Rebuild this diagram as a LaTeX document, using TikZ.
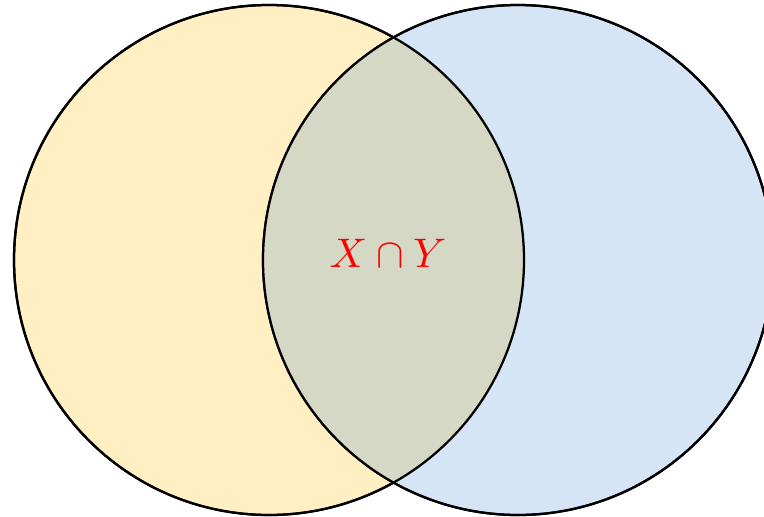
\documentclass[tikz,border=0pt]{standalone}
\definecolor{setXfill}{HTML}{FFEFC2}
\definecolor{setYfill}{HTML}{D6E5F5}
\definecolor{setXYfill}{HTML}{D5D8C5}
\begin{document}
\begin{tikzpicture}[x=0.75pt, y=-0.75pt,
  setA/.style={circle, draw=black, line width=1.7pt, inner sep=0pt, minimum size=382.5pt},
  lab/.style={text=red, scale=3.1}]
\useasboundingbox (0,0) rectangle (764,517);
\node[setA, fill=setXfill] (setX) at (269,260) {};
\node[setA, fill=setYfill] (setY) at (518,260) {};
\begin{scope}
  \clip (269,260) circle (255);
  \fill[setXYfill] (518,260) circle (255);
\end{scope}
\draw[line width=1.7pt] (269,260) circle (255);
\draw[line width=1.7pt] (518,260) circle (255);
\node[lab] (cap) at (388,253) {$X \cap Y$};
\end{tikzpicture}
\end{document}
